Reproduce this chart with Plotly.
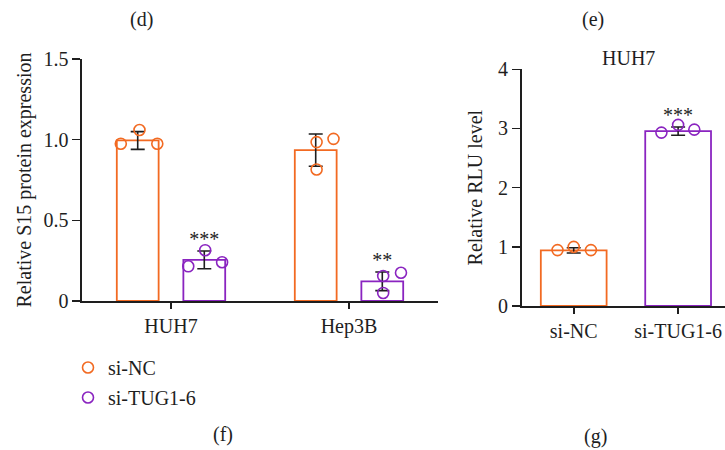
import plotly.graph_objects as go

# ---------------- data: panel (f) ----------------
cell_lines = ["HUH7", "Hep3B"]
s15_mean_nc = [0.995, 0.935]
s15_sd_nc = [0.055, 0.10]
s15_mean_tug = [0.255, 0.122]
s15_sd_tug = [0.055, 0.058]
s15_pts_nc = [[0.975, 1.06, 0.975], [0.985, 0.815, 1.005]]
s15_pts_tug = [[0.215, 0.315, 0.24], [0.155, 0.05, 0.175]]
s15_stars = ["***", "**"]
s15_ticks = [0, 0.5, 1.0, 1.5]
s15_ticktext = ["0", "0.5", "1.0", "1.5"]

# ---------------- data: panel (g) ----------------
rlu_groups = ["si-NC", "si-TUG1-6"]
rlu_mean = [0.94, 2.955]
rlu_sd = [0.045, 0.07]
rlu_pts = [[0.945, 1.0, 0.945], [2.93, 3.06, 2.98]]
rlu_stars = ["", "***"]
rlu_ticks = [0, 1, 2, 3, 4]

series_names = ["si-NC", "si-TUG1-6"]

# ---------------- styling / layout constants ----------------
ORANGE = "#F26A22"
PURPLE = "#8A24C0"
INK = "#1e1e1e"
FONT = "Liberation Serif"
FS = 20
W, H = 725, 450


def px(x):
    return x / W


def py(y):
    return 1 - y / H


BAR_OFF = 0.187      # half-distance between grouped bars (category units)
BAR_W_F = 0.235
BAR_W_G = 0.63
# horizontal spread of the individual points (category units)
jit_nc = [[-0.095, 0.01, 0.11], [0.005, 0.005, 0.10]]
jit_tug = [[-0.09, 0.005, 0.10], [0.005, 0.005, 0.105]]
jit_g = [[-0.155, 0.0, 0.165], [-0.16, 0.0, 0.155]]

fig = go.Figure()

err_style = dict(type="data", visible=True, color=INK, thickness=1.6, width=7)

# ----- panel (f) bars -----
xi = list(range(len(cell_lines)))
for means, sds, color, sign in [
    (s15_mean_nc, s15_sd_nc, ORANGE, -1),
    (s15_mean_tug, s15_sd_tug, PURPLE, 1),
]:
    fig.add_trace(go.Bar(
        x=[i + sign * BAR_OFF for i in xi], y=means, width=BAR_W_F,
        marker=dict(color="white", line=dict(color=color, width=1.8)),
        error_y=dict(array=sds, **err_style),
        showlegend=False, xaxis="x", yaxis="y", hoverinfo="skip"))

# ----- panel (f) points (legend entries) -----
for k, (pts, jit, color, sign) in enumerate([
    (s15_pts_nc, jit_nc, ORANGE, -1),
    (s15_pts_tug, jit_tug, PURPLE, 1),
]):
    xs, ys = [], []
    for i, (grp, jj) in enumerate(zip(pts, jit)):
        for v, j in zip(grp, jj):
            xs.append(i + sign * BAR_OFF + j)
            ys.append(v)
    fig.add_trace(go.Scatter(
        x=xs, y=ys, mode="markers", name=series_names[k],
        legendgroup=series_names[k],
        marker=dict(symbol="circle-open", size=11, color=color,
                    line=dict(color=color, width=1.6)),
        cliponaxis=False, xaxis="x", yaxis="y"))

# ----- panel (g) bars -----
gcolors = [ORANGE, PURPLE]
for i in range(len(rlu_groups)):
    fig.add_trace(go.Bar(
        x=[i], y=[rlu_mean[i]], width=BAR_W_G,
        marker=dict(color="white", line=dict(color=gcolors[i], width=1.8)),
        error_y=dict(array=[rlu_sd[i]], **err_style),
        showlegend=False, xaxis="x2", yaxis="y2", hoverinfo="skip"))
for i in range(len(rlu_groups)):
    fig.add_trace(go.Scatter(
        x=[i + j for j in jit_g[i]], y=rlu_pts[i], mode="markers",
        marker=dict(symbol="circle-open", size=11, color=gcolors[i],
                    line=dict(color=gcolors[i], width=1.6)),
        showlegend=False, cliponaxis=False, xaxis="x2", yaxis="y2"))

# ----- significance stars (text traces anchored on the error-bar tops) -----
fig.add_trace(go.Scatter(
    x=[i + BAR_OFF for i in xi],
    y=[m + s for m, s in zip(s15_mean_tug, s15_sd_tug)],
    mode="text", text=s15_stars, textposition="top center",
    textfont=dict(family=FONT, size=FS, color=INK),
    showlegend=False, cliponaxis=False, hoverinfo="skip",
    xaxis="x", yaxis="y"))
fig.add_trace(go.Scatter(
    x=list(range(len(rlu_groups))),
    y=[m + s for m, s in zip(rlu_mean, rlu_sd)],
    mode="text", text=rlu_stars, textposition="top center",
    textfont=dict(family=FONT, size=FS, color=INK),
    showlegend=False, cliponaxis=False, hoverinfo="skip",
    xaxis="x2", yaxis="y2"))

annotations = []
# panel letters and title
for txt, tx, ty in [("(d)", 141, 20), ("(e)", 593, 20), ("(f)", 223, 434),
                    ("(g)", 595, 436), ("HUH7", 628, 58)]:
    annotations.append(dict(
        x=px(tx), y=py(ty), xref="paper", yref="paper", text=txt,
        showarrow=False, xanchor="center", yanchor="middle",
        font=dict(family=FONT, size=FS, color=INK)))

axis_common = dict(showline=True, linecolor=INK, linewidth=1.6, ticks="outside",
                   tickcolor=INK, tickwidth=1.6, showgrid=False,
                   zeroline=False, automargin=False,
                   tickfont=dict(family=FONT, size=FS, color=INK))

fig.update_layout(
    width=W, height=H, margin=dict(l=0, r=0, t=0, b=0, autoexpand=False),
    paper_bgcolor="white", plot_bgcolor="white",
    font=dict(family=FONT, size=FS, color=INK),
    barmode="overlay",
    xaxis=dict(domain=[px(82), px(438)], range=[-0.5, 1.5], ticklen=6,
               tickvals=xi, ticktext=cell_lines, anchor="y", **axis_common),
    yaxis=dict(domain=[py(301), py(59)], range=[0, 1.5], ticklen=8,
               tickvals=s15_ticks, ticktext=s15_ticktext, anchor="x",
               title=dict(text="Relative S15 protein expression", standoff=6,
                          font=dict(family=FONT, size=FS, color=INK)),
               **axis_common),
    xaxis2=dict(domain=[px(521.5), 1.0], range=[-0.5, 1.449], ticklen=6,
                tickvals=[0, 1], ticktext=rlu_groups, anchor="y2", **axis_common),
    yaxis2=dict(domain=[py(306), py(69.3)], range=[0, 4], ticklen=8,
                tickvals=rlu_ticks, anchor="x2",
                title=dict(text="Relative RLU level", standoff=10,
                           font=dict(family=FONT, size=FS, color=INK)),
                **axis_common),
    legend=dict(x=px(68), y=py(348), xanchor="left", yanchor="top",
                traceorder="grouped", tracegroupgap=1,
                font=dict(family=FONT, size=FS, color=INK),
                bgcolor="rgba(0,0,0,0)"),
    annotations=annotations,
)

fig.write_html(
    "out.html",
    config={"displayModeBar": False, "staticPlot": True},
    post_script="document.body.style.margin='0px';"
                "document.body.style.overflow='hidden';")
